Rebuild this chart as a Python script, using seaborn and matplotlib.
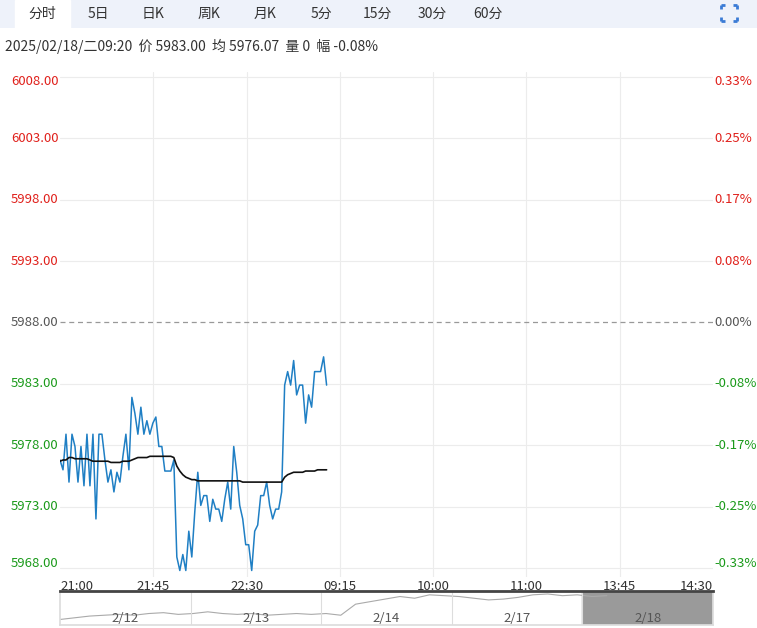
import matplotlib
matplotlib.use("Agg")
import matplotlib.pyplot as plt
import seaborn as sns
import numpy as np
import pandas as pd
from matplotlib.patches import Rectangle

sns.set_theme(style="white")
plt.rcParams['font.family'] = ['Noto Sans CJK SC', 'DejaVu Sans']

prev_close = 5988.0
price = [5976.8,5976.0,5978.9,5975.0,5978.9,5977.9,5975.0,5977.9,5974.7,5978.9,
         5974.7,5978.9,5972.0,5978.9,5978.9,5976.8,5975.0,5976.0,5974.2,5975.8,
         5975.0,5977.1,5978.9,5976.0,5981.9,5980.6,5978.9,5981.1,5978.9,5980.0,
         5978.9,5979.8,5980.3,5977.9,5977.9,5975.9,5975.9,5975.9,5976.8,5968.9,
         5967.8,5969.1,5967.8,5971.0,5968.9,5972.6,5975.8,5973.1,5973.9,5973.9,
         5971.8,5973.6,5972.8,5972.8,5971.8,5973.6,5975.0,5972.8,5977.9,5975.8,
         5973.1,5972.0,5969.9,5969.9,5967.8,5971.0,5971.5,5973.9,5973.9,5975.0,
         5973.1,5972.0,5972.8,5972.8,5974.2,5982.9,5984.0,5982.9,5984.9,5982.1,
         5982.9,5982.9,5979.8,5982.1,5981.1,5984.0,5984.0,5984.0,5985.2,5982.9]
avg = [5976.7,5976.8,5976.8,5977.0,5977.0,5976.9,5976.9,5976.9,5976.9,5976.9,
       5976.8,5976.7,5976.7,5976.7,5976.7,5976.7,5976.7,5976.6,5976.6,5976.6,
       5976.6,5976.7,5976.7,5976.7,5976.8,5976.9,5977.0,5977.0,5977.0,5977.0,
       5977.1,5977.1,5977.1,5977.1,5977.1,5977.1,5977.1,5977.1,5977.0,5976.3,
       5975.9,5975.6,5975.4,5975.3,5975.2,5975.2,5975.1,5975.1,5975.1,5975.1,
       5975.1,5975.1,5975.1,5975.1,5975.1,5975.1,5975.1,5975.1,5975.1,5975.1,
       5975.1,5975.0,5975.0,5975.0,5975.0,5975.0,5975.0,5975.0,5975.0,5975.0,
       5975.0,5975.0,5975.0,5975.0,5975.0,5975.4,5975.6,5975.7,5975.8,5975.8,
       5975.8,5975.8,5975.9,5975.9,5975.9,5975.9,5976.0,5976.0,5976.0,5976.0]
x_labels = ["21:00","21:45","22:30","09:15","10:00","11:00","13:45","14:30"]
y_ticks = [5968.0,5973.0,5978.0,5983.0,5988.0,5993.0,5998.0,6003.0,6008.0]
pct_labels = ["-0.33%","-0.25%","-0.17%","-0.08%","0.00%","0.08%","0.17%","0.25%","0.33%"]
tabs = ["分时","5日","日K","周K","月K","5分","15分","30分","60分"]
nav_days = ["2/12","2/13","2/14","2/17","2/18"]
nav_vals = [5848,5852,5856,5858,5860,5858,5862,5864,5860,5862,5866,5862,5860,5862,
            5858,5860,5862,5860,5862,5858,5884,5890,5896,5902,5898,5906,5904,5902,
            5898,5894,5896,5900,5906,5908,5904,5906,5902,5904]

W, H = 757, 628
fig = plt.figure(figsize=(W/100, H/100), dpi=100)
fig.patch.set_facecolor("white")

def fx(px): return px / W
def fy(py): return 1 - py / H

# tab bar
top = fig.add_axes([0, fy(28), 1, 28/H]); top.axis("off")
top.set_xlim(0, W); top.set_ylim(28, 0)
top.add_patch(Rectangle((0, 0), W, 28, color="#eef2fa"))
top.add_patch(Rectangle((15, 0), 55, 29, color="white"))
tab_x = [42, 98, 153, 209, 265, 321, 377, 432, 488]
for t, xx in zip(tabs, tab_x):
    top.text(xx, 14, t, ha="center", va="center", fontsize=10, color="#333333")
# fullscreen icon: four corner brackets
cx, cy, r, L = 729, 13, 8, 4
ic = "#3a7bd5"
for sx in (-1, 1):
    for sy in (-1, 1):
        x0, y0c = cx + sx * r, cy + sy * r
        top.plot([x0, x0 - sx * L], [y0c, y0c], color=ic, lw=2, solid_capstyle="butt")
        top.plot([x0, x0], [y0c, y0c - sy * L], color=ic, lw=2, solid_capstyle="butt")

fig.text(fx(5), fy(46), "2025/02/18/二09:20  价 5983.00  均 5976.07  量 0  幅 -0.08%",
         fontsize=10, color="#333333", va="center")

# main chart
y0, y1 = 5967.27, 6008.4
ax = fig.add_axes([fx(60), fy(577), fx(653), 505/H])
xmax = 218
xs = np.arange(len(price))
df = pd.DataFrame({"x": xs, "price": price, "avg": avg})
sns.lineplot(data=df, x="x", y="price", ax=ax, color="#1f7fc4", linewidth=1.1)
sns.lineplot(data=df, x="x", y="avg", ax=ax, color="#111111", linewidth=1.2)
ax.set_xlim(0, xmax); ax.set_ylim(y0, y1)
xt = np.linspace(0, xmax, len(x_labels))
for v in y_ticks:
    if v == prev_close:
        ax.axhline(v, color="#999999", lw=0.9, ls=(0, (4, 3)))
    else:
        ax.axhline(v, color="#ececec", lw=0.8, zorder=0)
for v in xt[1:-1]:
    ax.axvline(v, color="#ececec", lw=0.8, zorder=0)
ax.set_xticks([]); ax.set_yticks([])
ax.set_xlabel(""); ax.set_ylabel("")
for s in ax.spines.values(): s.set_visible(False)
for v, pl in zip(y_ticks, pct_labels):
    c = "#e0201b" if v > prev_close else ("#1a9a1a" if v < prev_close else "#555555")
    yy = min(max(v, 5968.4), 6007.6)
    ax.text(-0.5, yy, f"{v:.2f}", ha="right", va="center", fontsize=9.5, color=c, clip_on=False)
    ax.text(xmax + 0.5, yy, pl, ha="left", va="center", fontsize=9.5, color=c, clip_on=False)
for i, (v, l) in enumerate(zip(xt, x_labels)):
    ha = "left" if i == 0 else ("right" if i == len(xt) - 1 else "center")
    ax.text(v, y0 - 0.25, l, ha=ha, va="top", fontsize=9.5, color="#333333", clip_on=False)

# navigator
nav = fig.add_axes([fx(60), fy(625), fx(653), 34/H])
nx = np.arange(len(nav_vals))
sns.lineplot(x=nx, y=nav_vals, ax=nav, color="#aaaaaa", linewidth=0.8)
n = len(nav_vals)
xm = n * 5 / 4.3
nav.set_xlim(0, xm); nav.set_ylim(5835, 5915)
nav.add_patch(Rectangle((xm * 0.8, 5835), xm * 0.2, 80, color="#9a9a9a", zorder=0))
for k in range(1, 5):
    nav.axvline(xm * k / 5, color="#dddddd", lw=0.8)
for k, d in enumerate(nav_days):
    nav.text(xm * (k + 0.5) / 5, 5850, d, ha="center", va="center", fontsize=9.5, color="#555555")
nav.set_xticks([]); nav.set_yticks([])
for s in nav.spines.values(): s.set_color("#dddddd")
nav.spines["top"].set_color("#444444"); nav.spines["top"].set_linewidth(2)

fig.savefig("out.png", dpi=100)
